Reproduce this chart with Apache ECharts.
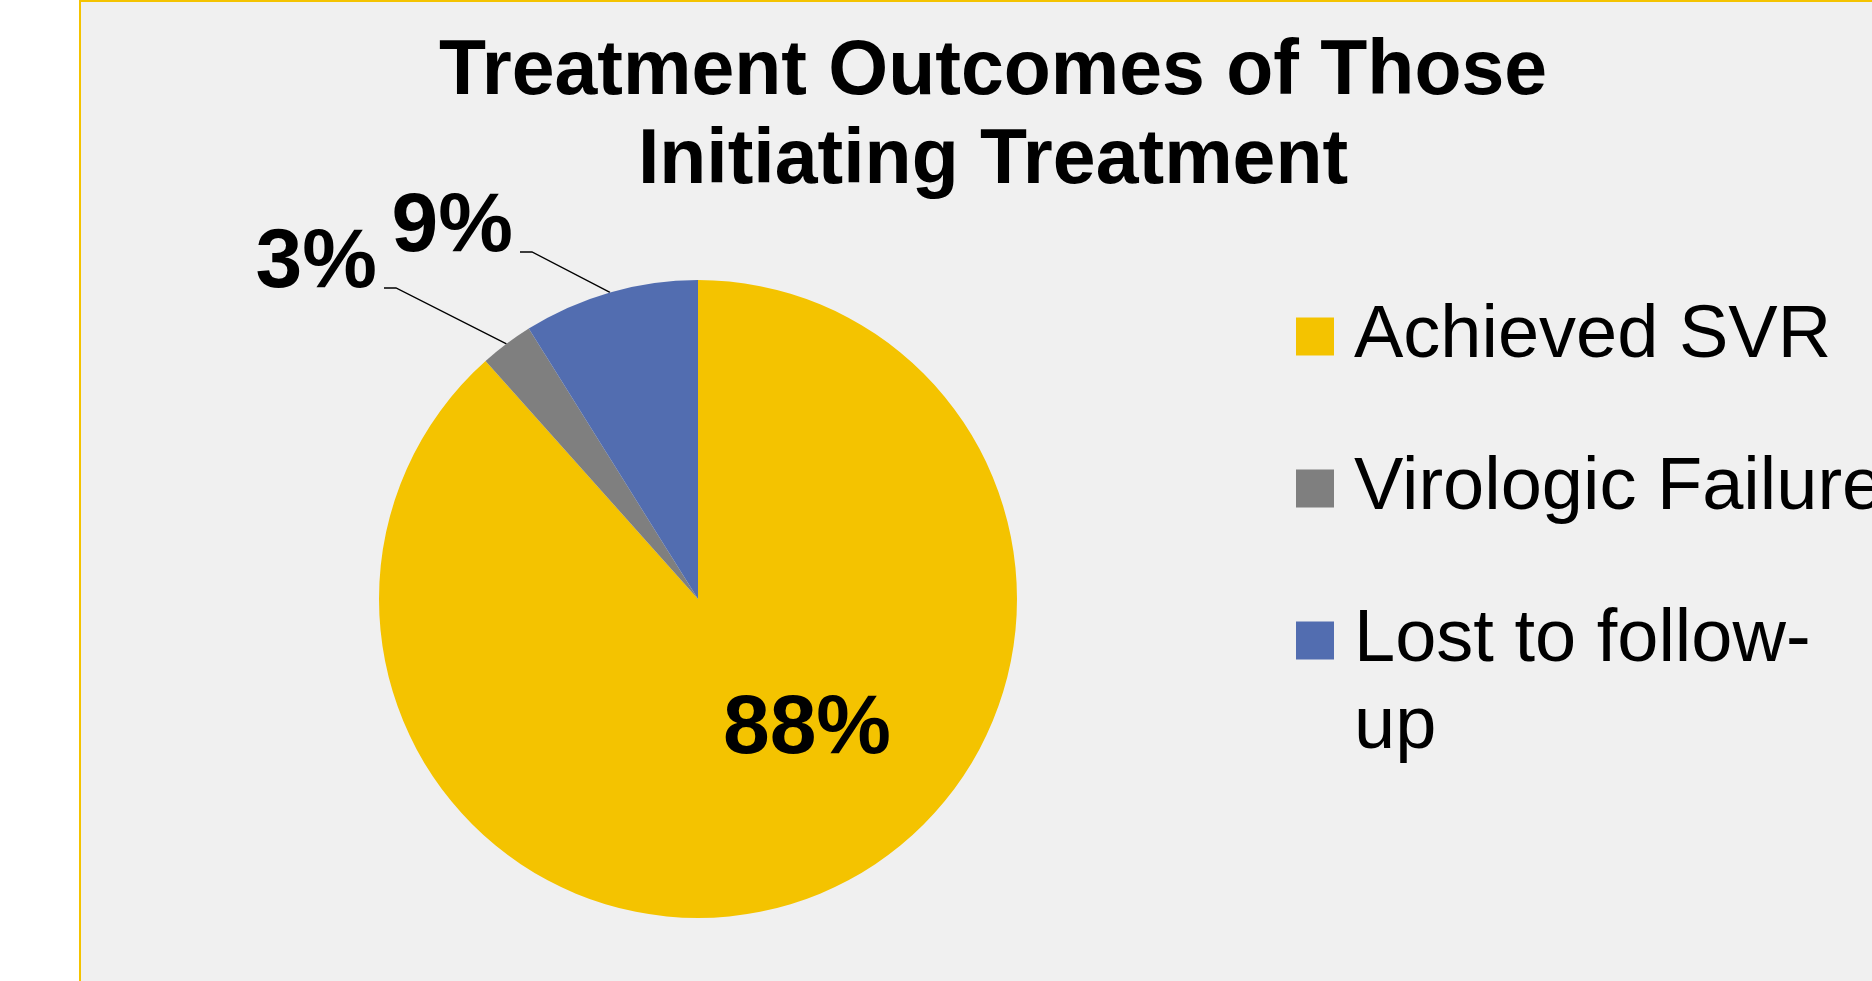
<!DOCTYPE html>
<html>
<head>
<meta charset="utf-8">
<title>Treatment Outcomes of Those Initiating Treatment</title>
<script src="https://cdn.jsdelivr.net/npm/echarts@6/dist/echarts.min.js"></script>
<style>
  html, body { margin: 0; padding: 0; background: #fff; }
  #chart { width: 1872px; height: 981px; }
</style>
</head>
<body>
<div id="chart"></div>
<script>
// outcome categories, clockwise from 12 o'clock
const outcomes = ['Achieved SVR', 'Virologic Failure', 'Lost to follow-up']
// share of patients (percent)
const shares = [88.4, 2.7, 8.9]
const sliceColors = ['#F4C300', '#7F7F7F', '#526DB0']

// where each percent label sits (Excel put them by hand)
const labelSpots = [
  { x: 807, y: 730, align: 'center' },
  { x: 377, y: 264, align: 'right' },
  { x: 513, y: 228, align: 'right' }
]

const fontFamily = 'Liberation Sans, Arial, sans-serif'

const legendText = {
  fontFamily: fontFamily,
  fontSize: 74,
  lineHeight: 87,
  color: '#000',
  padding: [0, 0, 0, 15]
}

const chart = echarts.init(document.getElementById('chart'))

const option = {
  backgroundColor: '#ffffff',
  animation: false,
  graphic: [
    {
      // grey plot panel with the yellow frame
      type: 'rect',
      z: -10,
      silent: true,
      shape: { x: 80, y: 1, width: 1820, height: 1010 },
      style: { fill: '#F0F0F0', stroke: '#F4C300', lineWidth: 2 }
    }
  ],
  title: {
    text: 'Treatment Outcomes of Those\nInitiating Treatment',
    left: 993,
    top: 28,
    padding: 0,
    textAlign: 'center',
    textStyle: {
      fontFamily: fontFamily,
      fontWeight: 'bold',
      fontSize: 77,
      lineHeight: 89,
      color: '#000'
    }
  },
  legend: [
    {
      orient: 'vertical',
      left: 1296,
      top: 293,
      padding: 0,
      itemWidth: 38,
      itemHeight: 38,
      itemGap: 65,
      icon: 'rect',
      selectedMode: false,
      textStyle: legendText,
      data: [outcomes[0], outcomes[1]]
    },
    {
      // the wrapped entry: blank first line keeps the square level with "Lost to follow-"
      orient: 'vertical',
      left: 1296,
      top: 510,
      padding: 0,
      itemWidth: 38,
      itemHeight: 38,
      icon: 'rect',
      selectedMode: false,
      formatter: function () {
        return '\nLost to follow-\nup'
      },
      textStyle: legendText,
      data: [outcomes[2]]
    }
  ],
  series: [
    {
      type: 'pie',
      center: [698, 599],
      radius: 319,
      startAngle: 90,
      clockwise: true,
      avoidLabelOverlap: false,
      emphasis: { disabled: true },
      itemStyle: { borderWidth: 0 },
      label: {
        show: true,
        position: 'outside',
        formatter: function (p) {
          return Math.round(p.value) + '%'
        },
        fontFamily: fontFamily,
        fontWeight: 'bold',
        fontSize: 84,
        color: '#000'
      },
      labelLine: {
        show: true,
        length: 20,
        length2: 12,
        lineStyle: { color: '#000', width: 1.3 }
      },
      labelLayout: function (params) {
        const spot = labelSpots[params.dataIndex]
        const out = { x: spot.x, y: spot.y, align: spot.align, verticalAlign: 'middle' }
        const pts = params.labelLinePoints
        if (pts && spot.align === 'right') {
          const lineY = spot.y + 24
          out.labelLinePoints = [pts[0], [spot.x + 19, lineY], [spot.x + 7, lineY]]
        }
        return out
      },
      data: outcomes.map(function (name, i) {
        const item = { name: name, value: shares[i], itemStyle: { color: sliceColors[i] } }
        if (i === 0) {
          item.label = { position: 'inside' }
          item.labelLine = { show: false }
        }
        return item
      })
    }
  ]
}

chart.setOption(option)
window.addEventListener('resize', function () { chart.resize() })
</script>
</body>
</html>
